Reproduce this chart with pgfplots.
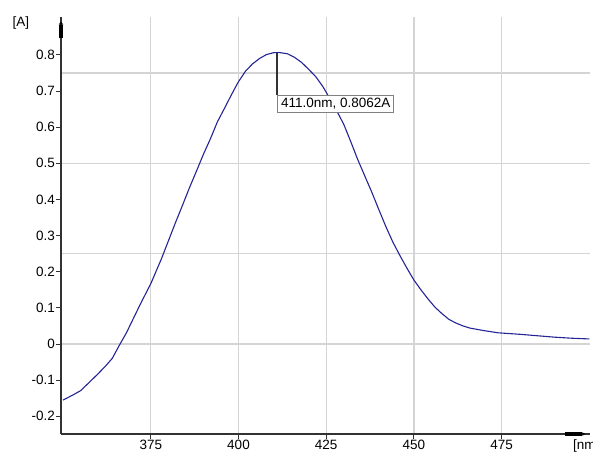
\documentclass[border=0pt]{standalone}
\usepackage{pgfplots}
\pgfplotsset{compat=1.18}
\usepackage{fontspec}
\setmainfont{Liberation Sans}
\usetikzlibrary{arrows.meta}

\definecolor{curve}{RGB}{36,36,150}
\definecolor{gridgray}{RGB}{212,212,212}
\definecolor{axisgray}{RGB}{50,50,50}
\newcommand\chartfont{\fontsize{13.5bp}{16bp}\selectfont}

\begin{document}
\begin{tikzpicture}
  % page size = reference size in px (1px = 1bp), origin at the axis corner
  \path[use as bounding box] (-61bp,-18bp) rectangle (532bp,434bp);
  \begin{axis}[
    scale only axis,
    width=529bp, height=416.7bp,
    xmin=349.4, xmax=500.2,
    ymin=-0.249, ymax=0.904,
    axis x line*=bottom, axis y line*=left,
    axis line style={axisgray, line width=1.3bp},
    xtick={375,400,425,450,475},
    ytick={-0.2,-0.1,0,0.1,0.2,0.3,0.4,0.5,0.6,0.7,0.8},
    minor ytick={0,0.25,0.5,0.75},
    xmajorgrids=true, yminorgrids=true,
    major grid style={gridgray, line width=1.2bp},
    minor grid style={gridgray, line width=1.2bp},
    tick align=outside,
    major tick length=5bp, minor tick length=0pt,
    tick style={axisgray, line width=1bp},
    /pgf/number format/assume math mode=true,
    ticklabel style={font=\chartfont},
    yticklabel style={anchor=east, inner sep=0pt, xshift=-1bp},
    xticklabel style={anchor=north, inner sep=0pt, yshift=-1bp},
    clip=false,
  ]
    \addplot[curve, line width=1.1bp] coordinates {
      (350,-0.155) (353,-0.140) (355,-0.129) (358,-0.101) (360,-0.082)
      (362,-0.062) (364,-0.040) (366,-0.004) (368,0.030)
      (370,0.070) (372,0.110) (375,0.167) (378,0.235) (380,0.285)
      (382,0.335) (384,0.383) (386,0.432) (388,0.478) (390,0.525)
      (392,0.568) (394,0.615) (396,0.652) (398,0.690) (400,0.726)
      (402,0.755) (404,0.775) (406,0.790) (408,0.801) (410,0.806)
      (411,0.8062) (412,0.806) (414,0.803) (416,0.793) (418,0.779)
      (420,0.760) (422,0.740) (424,0.713) (426,0.680) (428,0.645)
      (430,0.608) (432,0.560) (434,0.510) (436,0.465) (438,0.420)
      (440,0.372) (442,0.325) (444,0.282) (446,0.245) (448,0.210)
      (450,0.177) (452,0.150) (454,0.125) (456,0.102) (458,0.084)
      (460,0.068) (462,0.058) (464,0.050) (466,0.044) (470,0.037)
      (474,0.031) (480,0.027) (485,0.023) (490,0.019) (495,0.016)
      (500,0.014)
    };
    % peak marker
    \draw[axisgray, line width=1.2bp] (axis cs:411,0.8062) -- (axis cs:411,0.690);
    \node[draw=gray, line width=1bp, fill=white, anchor=north west,
          inner xsep=3.5bp, inner ysep=3bp, font=\chartfont]
      at (axis cs:411,0.690) {411.0nm, 0.8062A};
    % axis arrow heads
    \draw[black, line width=4.5bp] (axis cs:349.4,0.846) -- (axis cs:349.4,0.884);
    \fill[black] ([xshift=-2.25bp]axis cs:349.4,0.884) -- ([xshift=2.25bp]axis cs:349.4,0.884)
      -- ([yshift=3bp]axis cs:349.4,0.884) -- cycle;
    \draw[black, line width=3.5bp] (axis cs:493.2,-0.249) -- (axis cs:498.0,-0.249);
    \fill[black] ([yshift=-1.75bp]axis cs:498.0,-0.249) -- ([yshift=1.75bp]axis cs:498.0,-0.249)
      -- ([xshift=3bp]axis cs:498.0,-0.249) -- cycle;
  \end{axis}
  \node[anchor=north west, inner sep=0pt, font=\chartfont] at (-48.5bp,417bp) {[A]};
  \node[anchor=north west, inner sep=0pt, font=\chartfont] at (512bp,-6bp) {[nm]};
\end{tikzpicture}
\end{document}
